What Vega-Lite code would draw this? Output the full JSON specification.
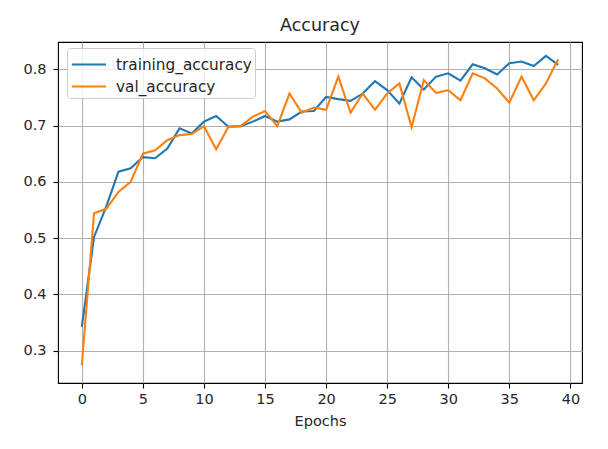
{
  "$schema": "https://vega.github.io/schema/vega-lite/v6.json",
  "width": 524,
  "height": 341,
  "autosize": {"type": "none"},
  "padding": {"left": 58, "top": 42, "right": 26, "bottom": 66},
  "background": "white",
  "config": {
    "font": "DejaVu Sans",
    "view": {"stroke": "black", "strokeWidth": 1.1},
    "axis": {
      "labelFont": "DejaVu Sans",
      "labelFontSize": 14.5,
      "labelColor": "#262626",
      "titleFont": "DejaVu Sans",
      "titleFontSize": 14.5,
      "titleFontWeight": "normal",
      "titleColor": "#262626",
      "tickColor": "black",
      "tickSize": 5,
      "tickWidth": 1.1,
      "labelPadding": 4,
      "gridColor": "#b0b0b0",
      "gridWidth": 1.1,
      "gridOpacity": 1,
      "domain": false
    }
  },
  "title": {
    "text": "Accuracy",
    "font": "DejaVu Sans",
    "fontSize": 17.5,
    "fontWeight": "normal",
    "color": "#262626",
    "offset": 8
  },
  "data": {
    "values": [
      {"epoch": 0, "series": "training_accuracy", "acc": 0.342},
      {"epoch": 1, "series": "training_accuracy", "acc": 0.502},
      {"epoch": 2, "series": "training_accuracy", "acc": 0.556},
      {"epoch": 3, "series": "training_accuracy", "acc": 0.618},
      {"epoch": 4, "series": "training_accuracy", "acc": 0.624},
      {"epoch": 5, "series": "training_accuracy", "acc": 0.644},
      {"epoch": 6, "series": "training_accuracy", "acc": 0.642},
      {"epoch": 7, "series": "training_accuracy", "acc": 0.659},
      {"epoch": 8, "series": "training_accuracy", "acc": 0.695},
      {"epoch": 9, "series": "training_accuracy", "acc": 0.686},
      {"epoch": 10, "series": "training_accuracy", "acc": 0.707},
      {"epoch": 11, "series": "training_accuracy", "acc": 0.717},
      {"epoch": 12, "series": "training_accuracy", "acc": 0.698},
      {"epoch": 13, "series": "training_accuracy", "acc": 0.699},
      {"epoch": 14, "series": "training_accuracy", "acc": 0.707},
      {"epoch": 15, "series": "training_accuracy", "acc": 0.717},
      {"epoch": 16, "series": "training_accuracy", "acc": 0.707},
      {"epoch": 17, "series": "training_accuracy", "acc": 0.711},
      {"epoch": 18, "series": "training_accuracy", "acc": 0.725},
      {"epoch": 19, "series": "training_accuracy", "acc": 0.726},
      {"epoch": 20, "series": "training_accuracy", "acc": 0.751},
      {"epoch": 21, "series": "training_accuracy", "acc": 0.747},
      {"epoch": 22, "series": "training_accuracy", "acc": 0.744},
      {"epoch": 23, "series": "training_accuracy", "acc": 0.757},
      {"epoch": 24, "series": "training_accuracy", "acc": 0.779},
      {"epoch": 25, "series": "training_accuracy", "acc": 0.763},
      {"epoch": 26, "series": "training_accuracy", "acc": 0.739},
      {"epoch": 27, "series": "training_accuracy", "acc": 0.786},
      {"epoch": 28, "series": "training_accuracy", "acc": 0.764},
      {"epoch": 29, "series": "training_accuracy", "acc": 0.787},
      {"epoch": 30, "series": "training_accuracy", "acc": 0.793},
      {"epoch": 31, "series": "training_accuracy", "acc": 0.780},
      {"epoch": 32, "series": "training_accuracy", "acc": 0.809},
      {"epoch": 33, "series": "training_accuracy", "acc": 0.802},
      {"epoch": 34, "series": "training_accuracy", "acc": 0.791},
      {"epoch": 35, "series": "training_accuracy", "acc": 0.811},
      {"epoch": 36, "series": "training_accuracy", "acc": 0.814},
      {"epoch": 37, "series": "training_accuracy", "acc": 0.806},
      {"epoch": 38, "series": "training_accuracy", "acc": 0.824},
      {"epoch": 39, "series": "training_accuracy", "acc": 0.808},
      {"epoch": 0, "series": "val_accuracy", "acc": 0.274},
      {"epoch": 1, "series": "val_accuracy", "acc": 0.544},
      {"epoch": 2, "series": "val_accuracy", "acc": 0.552},
      {"epoch": 3, "series": "val_accuracy", "acc": 0.582},
      {"epoch": 4, "series": "val_accuracy", "acc": 0.600},
      {"epoch": 5, "series": "val_accuracy", "acc": 0.650},
      {"epoch": 6, "series": "val_accuracy", "acc": 0.656},
      {"epoch": 7, "series": "val_accuracy", "acc": 0.674},
      {"epoch": 8, "series": "val_accuracy", "acc": 0.683},
      {"epoch": 9, "series": "val_accuracy", "acc": 0.685},
      {"epoch": 10, "series": "val_accuracy", "acc": 0.699},
      {"epoch": 11, "series": "val_accuracy", "acc": 0.658},
      {"epoch": 12, "series": "val_accuracy", "acc": 0.698},
      {"epoch": 13, "series": "val_accuracy", "acc": 0.699},
      {"epoch": 14, "series": "val_accuracy", "acc": 0.716},
      {"epoch": 15, "series": "val_accuracy", "acc": 0.726},
      {"epoch": 16, "series": "val_accuracy", "acc": 0.699},
      {"epoch": 17, "series": "val_accuracy", "acc": 0.757},
      {"epoch": 18, "series": "val_accuracy", "acc": 0.723},
      {"epoch": 19, "series": "val_accuracy", "acc": 0.732},
      {"epoch": 20, "series": "val_accuracy", "acc": 0.728},
      {"epoch": 21, "series": "val_accuracy", "acc": 0.787},
      {"epoch": 22, "series": "val_accuracy", "acc": 0.723},
      {"epoch": 23, "series": "val_accuracy", "acc": 0.757},
      {"epoch": 24, "series": "val_accuracy", "acc": 0.728},
      {"epoch": 25, "series": "val_accuracy", "acc": 0.757},
      {"epoch": 26, "series": "val_accuracy", "acc": 0.775},
      {"epoch": 27, "series": "val_accuracy", "acc": 0.697},
      {"epoch": 28, "series": "val_accuracy", "acc": 0.781},
      {"epoch": 29, "series": "val_accuracy", "acc": 0.758},
      {"epoch": 30, "series": "val_accuracy", "acc": 0.763},
      {"epoch": 31, "series": "val_accuracy", "acc": 0.745},
      {"epoch": 32, "series": "val_accuracy", "acc": 0.793},
      {"epoch": 33, "series": "val_accuracy", "acc": 0.784},
      {"epoch": 34, "series": "val_accuracy", "acc": 0.766},
      {"epoch": 35, "series": "val_accuracy", "acc": 0.741},
      {"epoch": 36, "series": "val_accuracy", "acc": 0.787},
      {"epoch": 37, "series": "val_accuracy", "acc": 0.745},
      {"epoch": 38, "series": "val_accuracy", "acc": 0.775},
      {"epoch": 39, "series": "val_accuracy", "acc": 0.818}
    ]
  },
  "mark": {"type": "line", "strokeWidth": 2.1, "clip": true},
  "encoding": {
    "x": {
      "field": "epoch",
      "type": "quantitative",
      "scale": {"domain": [-1.95, 40.95], "nice": false, "zero": false},
      "axis": {"values": [0, 5, 10, 15, 20, 25, 30, 35, 40], "title": "Epochs", "titlePadding": 9}
    },
    "y": {
      "field": "acc",
      "type": "quantitative",
      "scale": {"domain": [0.2424, 0.8486], "nice": false, "zero": false},
      "axis": {"values": [0.3, 0.4, 0.5, 0.6, 0.7, 0.8], "format": ".1f", "title": null, "labelPadding": 7}
    },
    "color": {
      "field": "series",
      "type": "nominal",
      "scale": {"domain": ["training_accuracy", "val_accuracy"], "range": ["#1f77b4", "#ff7f0e"]},
      "legend": {
        "title": null,
        "orient": "none",
        "legendX": 9,
        "legendY": 6,
        "fillColor": "rgba(255,255,255,0.8)",
        "strokeColor": "#cccccc",
        "cornerRadius": 3,
        "padding": 3,
        "symbolType": "M-0.975,0H1.88",
        "symbolStrokeWidth": 2.1,
        "symbolSize": 576,
        "labelFont": "DejaVu Sans",
        "labelFontSize": 15.3,
        "labelColor": "#262626",
        "labelOffset": 19,
        "labelExpr": "datum.label + '\u00a0'",
        "rowPadding": 0,
        "symbolOffset": 0
      }
    }
  }
}
